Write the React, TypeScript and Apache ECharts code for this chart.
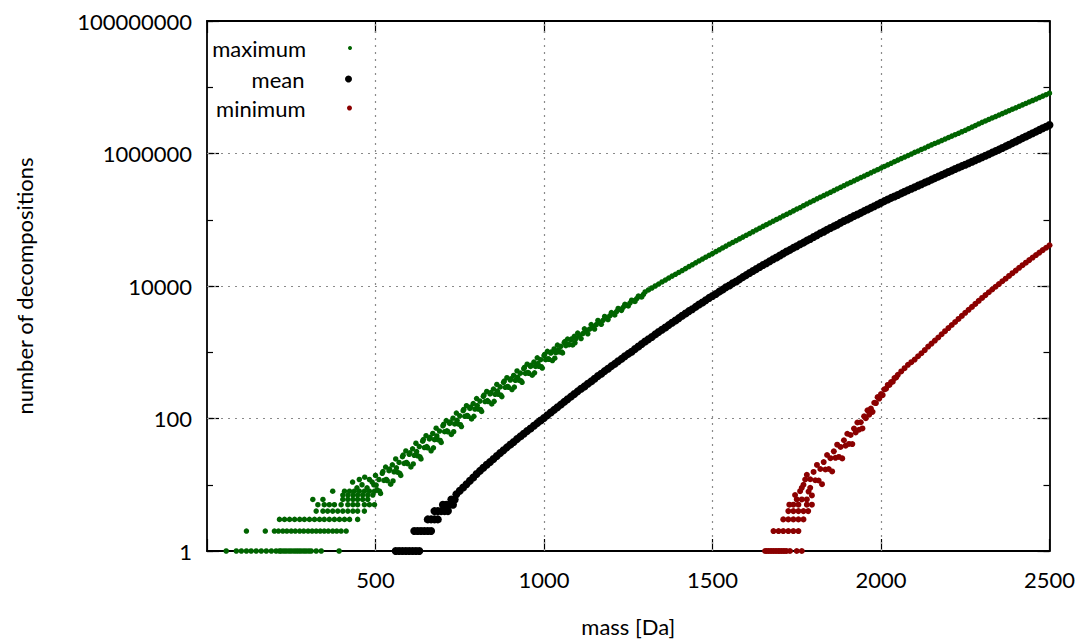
import { useEffect, useRef } from "react";
import * as echarts from "echarts";

const FONT = "Lato";
const seriesNames = ["maximum", "mean", "minimum"];
const seriesColors = ["#006400", "#000000", "#8b0000"];
const xGridValues = [500, 1000, 1500, 2000];
const yGridValues = [100, 10000, 1000000];
const yLabelValues = [1, 100, 10000, 1000000, 100000000];
const yDecadeValues = [1, 10, 100, 1000, 10000, 100000, 1000000, 10000000, 100000000];

// [mass (Da), number of decompositions]
const maxPoints: [number, number][] = [
  [57,1],[87,1],[102,1],[117,1],[131,1],[146,1],[161,1],[176,1],[191,1],[205,1],[215,1],[220,1],[228,1],[235,1],[243,1],[250,1],[258,1],[265,1],[272,1],[279,1],[287,1],[294,1],[302,1],[309,1],[324,1],[339,1],[392,1],
  [117,2],[173,2],[200,2],[212,2],[225,2],[237,2],[250,2],[262,2],[275,2],[287,2],[300,2],[312,2],[324,2],[336,2],[348,2],[360,2],[373,2],[385,2],[398,2],[413,2],
  [215,3],[230,3],[245,3],[260,3],[275,3],[289,3],[304,3],[319,3],[334,3],[348,3],[363,3],[378,3],[393,3],[408,3],[423,3],[447,3],
  [324,4],[344,4],[358,4],[373,4],[388,4],[403,4],[418,4],[433,4],[447,4],[467,4],
  [329,5],[348,5],[363,5],[378,5],[398,5],[418,5],[433,5],[447,5],[467,5],[482,5],[497,5],
  [314,6],[344,6],[403,6],[418,6],[433,6],[447,6],[462,6],[477,6],
  [403,7],[418,7],[433,7],[447,7],[462,7],[477,7],[492,7],
  [373,8],[408,8],[423,8],[437,8],[452,8],[467,8],[482,8],[497,8],
  [432,11],[445,9],[452,12],[460,10],[468,13],[475,9],[482,12],[490,11],[495,10],
  [500,13.8],[505,8.4],[510,12.0],[515,7.4],[520,14.9],[525,11.6],[530,18.5],[535,11.5],[540,16.3],[545,10.2],[550,20.0],[555,15.7],[560,24.5],[565,15.5],[570,21.7],[575,13.8],[580,26.5],[585,21.0],[590,32.4],[595,20.8],
  [600,28.8],[605,18.6],[610,34.9],[615,27.8],[620,42.3],[625,27.4],[630,37.7],[635,24.5],[640,45.5],[645,36.4],[650,55.0],[655,36.1],[660,49.2],[665,32.6],[670,59.4],[675,48.0],[680,71.4],[685,47.9],[690,64.6],[695,43.6],
  [700,77.6],[705,63.2],[710,92.9],[715,63.1],[720,84.3],[725,57.5],[730,101],[735,82.8],[740,121],[745,82.8],[750,110],[755,75.7],[760,131],[765,108],[770,156],[775,108],[780,142],[785,98.4],[790,168],[795,139],
  [800,200],[805,139],[810,183],[815,128],[820,216],[825,180],[830,256],[835,180],[840,235],[845,166],[850,278],[855,232],[860,327],[865,232],[870,300],[875,214],[880,352],[885,296],[890,413],[895,296],
  [900,381],[905,274],[910,447],[915,377],[920,522],[925,378],[930,484],[935,352],[940,566],[945,480],[950,661],[955,482],[960,612],[965,451],[970,711],[975,610],[980,824],[985,614],[990,771],[995,578],
  [1000,891],[1005,773],[1010,1030],[1015,783],[1020,973],[1025,750],[1030,1120],[1035,986],[1040,1280],[1045,1010],[1050,1230],[1055,977],[1060,1400],[1065,1260],[1070,1580],[1075,1300],[1080,1540],[1085,1290],[1090,1740],[1095,1610],
  [502,9.9],[512,8.0],[522,15.8],[532,12.0],[542,17.2],[552,11.4],[562,18.0],[572,14.9],[582,28.0],[592,21.7],[602,30.4],[612,20.6],[622,31.7],[632,26.4],[642,48.0],[652,37.6],[662,51.9],[672,36.1],[682,54.6],[692,46.6],
  [702,81.5],[712,65.3],[722,88.7],[732,63.2],[742,93.8],[752,80.5],[762,137],[772,111],[782,149],[792,108],[802,157],[812,136],[822,226],[832,186],[842,246],[852,182],[862,259],[872,226],[882,368],[892,305],
  [902,398],[912,298],[922,420],[932,371],[942,590],[952,495],[962,637],[972,490],[982,675],[992,604],[1002,925],[1012,798],[1022,1010],[1032,813],[1042,1080],[1052,1010],[1062,1450],[1072,1310],[1082,1590],[1092,1390],
  [1100,1950],[1110,1610],[1120,2260],[1130,1900],[1140,2620],[1150,2240],[1160,3020],[1170,2640],[1180,3470],[1190,3120],[1200,3980],[1210,3660],[1220,4590],[1230,4290],[1240,5300],[1250,5010],[1260,6110],[1270,5860],[1280,7050],[1290,6850],
  [1105,1770],[1115,1910],[1125,2070],[1135,2230],[1145,2420],[1155,2610],[1165,2820],[1175,3040],[1185,3280],[1195,3540],[1205,3810],[1215,4100],[1225,4430],[1235,4760],[1245,5140],[1255,5530],[1265,5970],[1275,6430],[1285,6930],[1295,7460],
  [1300,8130],[1310,8710],[1320,9330],[1330,10000],[1340,10700],[1350,11500],[1360,12300],[1370,13200],[1380,14100],[1390,15000],[1400,16000],[1410,17100],[1420,18300],[1430,19600],[1440,20900],[1450,22400],[1460,23900],[1470,25500],[1480,27200],[1490,29000],
  [1500,30900],[1510,33000],[1520,35200],[1530,37500],[1540,40000],[1550,42700],[1560,45400],[1570,48300],[1580,51400],[1590,54700],[1600,58200],[1610,61900],[1620,65900],[1630,70100],[1640,74600],[1650,79400],[1660,84300],[1670,89500],[1680,95100],[1690,101000],
  [1700,107000],[1710,114000],[1720,121000],[1730,128000],[1740,136000],[1750,145000],[1760,153000],[1770,163000],[1780,173000],[1790,184000],[1800,195000],[1810,207000],[1820,219000],[1830,232000],[1840,245000],[1850,260000],[1860,275000],[1870,292000],[1880,309000],[1890,327000],
  [1900,347000],[1910,366000],[1920,387000],[1930,409000],[1940,433000],[1950,457000],[1960,483000],[1970,511000],[1980,540000],[1990,570000],[2000,603000],[2010,637000],[2020,673000],[2030,711000],[2040,752000],[2050,794000],[2060,838000],[2070,883000],[2080,931000],[2090,982000],
  [2100,1040000],[2110,1090000],[2120,1150000],[2130,1210000],[2140,1280000],[2150,1350000],[2160,1420000],[2170,1490000],[2180,1570000],[2190,1650000],[2200,1740000],[2210,1830000],[2220,1920000],[2230,2020000],[2240,2130000],[2250,2240000],[2260,2370000],[2270,2500000],[2280,2640000],[2290,2790000],
  [2300,2950000],[2310,3100000],[2320,3270000],[2330,3440000],[2340,3610000],[2350,3800000],[2360,4000000],[2370,4210000],[2380,4430000],[2390,4660000],[2400,4900000],[2410,5150000],[2420,5420000],[2430,5700000],[2440,6000000],[2450,6310000],[2460,6640000],[2470,6980000],[2480,7350000],[2490,7730000],[2500,8130000],
];

const meanPoints: [number, number][] = [
  [560,1],[570,1],[580,1],[590,1],[600,1],[610,1],[620,1],[630,1],
  [615,2],[625,2],[635,2],[645,2],[655,2],[665,2],
  [655,3],[665,3],[675,3],[685,3],
  [675,4],[685,4],[695,4],[705,4],[715,4],
  [700,5],[710,5],[720,5],[730,5],
  [725,6],[735,6],
  [740,7.2],[750,8.1],[760,9.1],[770,10.2],[780,11.5],[790,12.9],[800,14.5],[810,16.2],[820,18.0],[830,20.0],[840,22.1],[850,24.5],[860,27.2],[870,30.2],[880,33.1],[890,36.7],
  [900,40.3],[910,44.2],[920,49.0],[930,53.7],[940,58.9],[950,64.6],[960,70.8],[970,77.6],[980,85.1],[990,93.3],
  [1000,102],[1010,112],[1020,123],[1030,135],[1040,148],[1050,162],[1060,178],[1070,195],[1080,214],[1090,234],[1100,257],[1110,282],[1120,305],[1130,335],[1140,363],[1150,398],[1160,437],[1170,473],[1180,519],[1190,562],
  [1200,617],[1210,668],[1220,733],[1230,794],[1240,871],[1250,944],[1260,1020],[1270,1120],[1280,1220],[1290,1330],[1300,1450],[1310,1570],[1320,1700],[1330,1860],[1340,2020],[1350,2190],[1360,2370],[1370,2570],[1380,2790],[1390,3020],
  [1400,3270],[1410,3550],[1420,3850],[1430,4170],[1440,4470],[1450,4840],[1460,5250],[1470,5620],[1480,6100],[1490,6610],[1500,7080],[1510,7590],[1520,8220],[1530,8810],[1540,9550],[1550,10200],[1560,11000],[1570,11700],[1580,12600],[1590,13600],
  [1600,14600],[1610,15700],[1620,16800],[1630,18000],[1640,19300],[1650,20700],[1660,22100],[1670,23700],[1680,25400],[1690,26900],[1700,28800],[1710,30900],[1720,33100],[1730,35100],[1740,37600],[1750,39800],[1760,42700],[1770,45200],[1780,48400],[1790,51300],
  [1800,55000],[1810,58200],[1820,62400],[1830,66100],[1840,70800],[1850,75000],[1860,79400],[1870,84100],[1880,90200],[1890,95500],[1900,101000],[1910,107000],[1920,114000],[1930,120000],[1940,127000],[1950,135000],[1960,143000],[1970,151000],[1980,160000],[1990,170000],
  [2000,180000],[2010,191000],[2020,202000],[2030,214000],[2040,225000],[2050,237000],[2060,250000],[2070,264000],[2080,279000],[2090,294000],[2100,310000],[2110,327000],[2120,344000],[2130,363000],[2140,382000],[2150,403000],[2160,425000],[2170,448000],[2180,472000],[2190,497000],
  [2200,525000],[2210,552000],[2220,582000],[2230,613000],[2240,645000],[2250,678000],[2260,714000],[2270,752000],[2280,792000],[2290,834000],[2300,878000],[2310,925000],[2320,975000],[2330,1030000],[2340,1085000],[2350,1145000],[2360,1210000],[2370,1280000],[2380,1355000],[2390,1435000],
  [2400,1520000],[2410,1610000],[2420,1705000],[2430,1805000],[2440,1910000],[2450,2020000],[2460,2140000],[2470,2270000],[2480,2400000],[2490,2540000],[2500,2690000],
];

const minPoints: [number, number][] = [
  [1656,1],[1661,1],[1666,1],[1671,1],[1676,1],[1681,1],[1686,1],[1691,1],[1696,1],[1700,1],[1705,1],[1710,1],[1715,1],[1720,1],[1730,1],[1750,1],[1765,1],
  [1681,2],[1696,2],[1710,2],[1725,2],[1740,2],[1755,2],
  [1710,3],[1725,3],[1740,3],[1755,3],[1770,3],
  [1725,4],[1740,4],[1755,4],[1770,4],[1784,4],
  [1728,5],[1740,5],[1755,5],[1780,5],[1795,5],
  [1750,6],[1765,6],[1780,6],
  [1745,7],[1760,8],[1765,9],[1770,10],[1775,12],[1790,9],
  [1780,14.1],[1785,7.9],[1790,12.1],[1795,6.9],[1800,15.6],[1805,11.7],[1810,19.9],[1815,11.6],[1820,17.3],[1825,10.2],[1830,22.0],[1835,17.0],[1840,28.1],[1845,17.3],[1850,25.2],[1855,15.9],[1860,31.9],[1865,25.5],[1870,40.2],[1875,26.3],
  [1880,37.2],[1885,25.0],[1890,47.0],[1895,38.9],[1900,58.9],[1905,41.3],[1910,56.4],[1915,41.1],[1920,70.5],[1925,61.5],[1930,87.1],[1935,67.6],[1940,87.7],[1945,70.8],[1950,108],[1955,101],[1960,133],[1965,114],[1970,141],[1975,126],
  [1980,173],[1985,171],[1990,210],[1995,200],[2000,234],[2005,226],[2010,275],[2015,281],[2020,321],[2025,321],[2030,355],[2035,359],[2040,407],[2045,417],[2050,457],
  [2060,513],[2070,575],[2080,646],[2090,708],[2100,776],[2110,871],[2120,966],[2130,1080],[2140,1220],[2150,1350],[2160,1500],[2170,1670],[2180,1870],[2190,2080],[2200,2320],
  [2210,2580],[2220,2860],[2230,3180],[2240,3540],[2250,3940],[2260,4370],[2270,4840],[2280,5370],[2290,5960],[2300,6610],[2310,7290],[2320,8050],[2330,8850],[2340,9750],[2350,10700],
  [2360,11800],[2370,12900],[2380,14200],[2390,15600],[2400,17100],[2410,18800],[2420,20600],[2430,22500],[2440,24600],[2450,26900],[2460,29300],[2470,31900],[2480,34800],[2490,37800],[2500,41200],
];

const seriesData = [maxPoints, meanPoints, minPoints];
const symbolSizes = [5.5, 8, 6];
const legendIconSizes = [4, 7, 5];
const legendTops = [37, 68, 97];

export default function App() {
  const ref = useRef<HTMLDivElement>(null);
  useEffect(() => {
    if (!ref.current) return;
    const chart = echarts.init(ref.current, null, { renderer: "svg" });
    const text = { fontFamily: FONT, fontSize: 22, color: "#000" };
    const axisLine = { show: true, lineStyle: { color: "#000", width: 1.8 } };
    const tickStyle = { color: "#000", width: 1.2 };
    const gridLineStyle = { type: [2, 5] as any, color: "#8a8a8a", width: 1.2 };
    const logBase = { type: "log" as const, logBase: 10, min: 1, max: 100000000, gridIndex: 0, splitLine: { show: false } };
    const option: any = {
      animation: false,
      grid: { left: 207, right: 28, top: 21, bottom: 86, containLabel: false },
      legend: seriesNames.map((n, i) => ({
        data: [n],
        orient: "vertical",
        right: 726,
        top: legendTops[i],
        align: "right",
        icon: "circle",
        itemWidth: 78,
        itemHeight: legendIconSizes[i],
        padding: 0,
        selectedMode: false,
        textStyle: text,
      })),
      xAxis: [
        {
          type: "value", min: 0, max: 2500, interval: 500, position: "bottom",
          name: "mass [Da]", nameLocation: "middle", nameGap: 64, nameTextStyle: text,
          axisLine, axisTick: { show: true, inside: true, length: 12, lineStyle: tickStyle },
          axisLabel: { ...text, margin: 17, formatter: (v: number) => (v === 0 ? "" : String(v)) },
          splitLine: { show: false },
        },
        {
          type: "value", min: 0, max: 2500, interval: 500, position: "top",
          axisLine, axisTick: { show: true, inside: true, length: 12, lineStyle: tickStyle },
          axisLabel: { show: false }, splitLine: { show: false },
        },
      ],
      yAxis: [
        {
          ...logBase, position: "left",
          name: "number of decompositions", nameLocation: "middle", nameGap: 172, nameTextStyle: text,
          axisLine,
          axisTick: { show: true, inside: true, length: 12, lineStyle: tickStyle, customValues: yLabelValues },
          axisLabel: { ...text, margin: 15, customValues: yLabelValues, formatter: (v: number) => String(Math.round(v)) },
        },
        {
          ...logBase, position: "left",
          axisLine: { show: false },
          axisTick: { show: true, inside: true, length: 6, lineStyle: tickStyle, customValues: yDecadeValues },
          axisLabel: { show: false },
        },
        {
          ...logBase, position: "right",
          axisLine,
          axisTick: { show: true, inside: true, length: 12, lineStyle: tickStyle, customValues: yLabelValues },
          axisLabel: { show: false },
        },
        {
          ...logBase, position: "right",
          axisLine: { show: false },
          axisTick: { show: true, inside: true, length: 6, lineStyle: tickStyle, customValues: yDecadeValues },
          axisLabel: { show: false },
        },
      ],
      series: seriesNames.map((n, i) => ({
        name: n,
        type: "scatter",
        xAxisIndex: 0,
        yAxisIndex: 0,
        data: seriesData[i],
        symbol: "circle",
        symbolSize: symbolSizes[i],
        itemStyle: { color: seriesColors[i], opacity: 1 },
        clip: false,
        z: 3,
        silent: true,
        ...(i === 1
          ? {
              markLine: {
                silent: true,
                symbol: "none",
                z: 1,
                label: { show: false },
                lineStyle: gridLineStyle,
                emphasis: { disabled: true },
                data: [
                  ...xGridValues.map((v) => ({ xAxis: v })),
                  ...yGridValues.map((v) => ({ yAxis: v })),
                ],
              },
            }
          : {}),
      })),
    };
    chart.setOption(option);
    return () => chart.dispose();
  }, []);
  return (
    <div
      ref={ref}
      style={{ position: "fixed", left: 0, top: 0, width: 1078, height: 642, background: "#fff" }}
    />
  );
}
